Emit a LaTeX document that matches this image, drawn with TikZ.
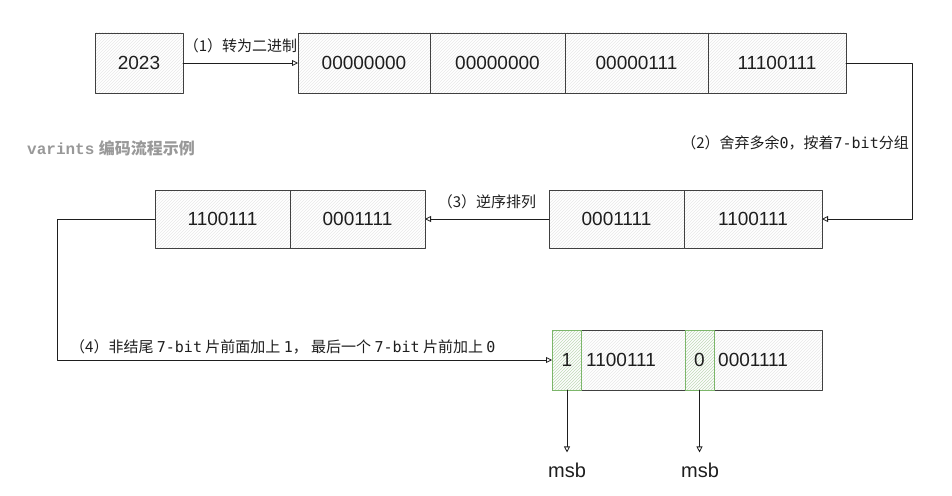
\documentclass[tikz,border=0pt]{standalone}
\usepackage{fontspec}
\setmainfont{Liberation Sans}
\setmonofont{DejaVu Sans Mono}
\newfontfamily\cjk{Noto Sans CJK SC}
\newfontfamily\tmono{Liberation Mono}
\usetikzlibrary{arrows.meta,patterns}
\definecolor{ink}{HTML}{1E1E1E}
\definecolor{msbgreen}{HTML}{7CB66A}
\begin{document}
\begin{tikzpicture}[x=1pt,y=-1pt,>={Triangle[open,length=6pt,width=6pt]},line join=round,line cap=round,
		cell/.style={draw=ink!85,line width=0.8pt,pattern=north east lines,pattern color=black!9,minimum height=60pt,inner sep=0pt,outer sep=0pt,font=\fontsize{19}{22}\selectfont,text=ink},
		msbcell/.style={cell,draw=msbgreen,pattern color=msbgreen!45,minimum width=29pt},
		lbl/.style={font=\cjk\fontsize{15}{18}\selectfont,text=ink,inner sep=0pt},
		flow/.style={->,draw=ink,line width=0.8pt}]
	\useasboundingbox (0,0) rectangle (952,495);
	% first row: the number and its 32 bits
	\node[cell,minimum width=88pt] (num) at (139,63) {2023};
	\node[cell,minimum width=132pt] (b1) at (364,63) {00000000};
	\node[cell,minimum width=135pt] (b2) at (497.5,63) {00000000};
	\node[cell,minimum width=143pt] (b3) at (636.5,63) {00000111};
	\node[cell,minimum width=138pt] (b4) at (777,63) {11100111};
	% 7-bit groups
	\node[cell,minimum width=135pt,minimum height=58pt] (g1) at (616.5,219) {0001111};
	\node[cell,minimum width=138pt,minimum height=58pt] (g2) at (753,219) {1100111};
	% reversed groups
	\node[cell,minimum width=135pt,minimum height=58pt] (r1) at (222.5,219) {1100111};
	\node[cell,minimum width=135pt,minimum height=58pt] (r2) at (357.5,219) {0001111};
	% result with msb
	\node[cell,minimum width=270pt] (res) at (687,360) {};
	\node[msbcell] (m1) at (567,360) {1};
	\node[msbcell] (m0) at (699.5,360) {0};
	\node[font=\fontsize{19}{22}\selectfont,text=ink,anchor=west,inner sep=0pt] (t1) at (586,360) {1100111};
	\node[font=\fontsize{19}{22}\selectfont,text=ink,anchor=west,inner sep=0pt] (t0) at (718,360) {0001111};
	\node[font=\fontsize{20}{22}\selectfont,text=ink,inner sep=0pt] (msb1) at (567,470) {msb};
	\node[font=\fontsize{20}{22}\selectfont,text=ink,inner sep=0pt] (msb0) at (700,470) {msb};
	% steps
	\draw[flow] (num) -- (b1) node[lbl,midway,above=10pt] (s1) {（1）转为二进制};
	\draw[flow] (b4.east) -- ++(66,0) |- (g2.east);
	\node[lbl,anchor=east] (s2) at (909,143) {（2）舍弃多余\texttt{0}，按着\texttt{7-bit}分组};
	\draw[flow] (g1) -- (r2) node[lbl,midway,above=10pt] (s3) {（3）逆序排列};
	\draw[flow] (r1.west) -- ++(-98,0) |- (res.west);
	\node[lbl,anchor=west] (s4) at (70,347) {（4）非结尾 \texttt{7-bit} 片前面加上 \texttt{1}，\ 最后一个 \texttt{7-bit} 片前加上 \texttt{0}};
	\draw[flow,shorten >=10pt] (m1) -- (msb1);
	\draw[flow,shorten >=10pt] (m0.south) -- (m0.south|-msb0.north);
	\node[anchor=west,text=black!40,font=\fontsize{16}{18}\selectfont,inner sep=0pt] (title) at (27,148) {{\tmono\bfseries varints} {\cjk\bfseries 编码流程示例}};
\end{tikzpicture}
\end{document}
